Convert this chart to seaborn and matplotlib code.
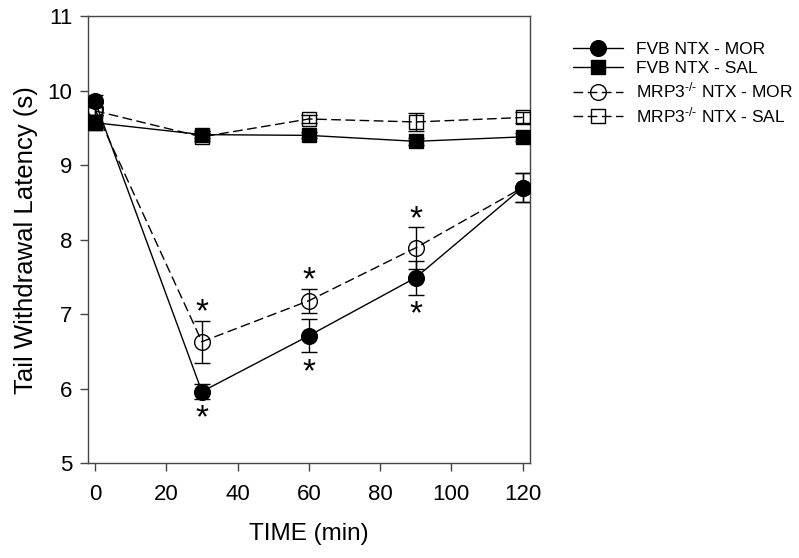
import numpy as np
import matplotlib
matplotlib.use('Agg')
import matplotlib.pyplot as plt
import pandas as pd
import seaborn as sns

# Values
time_min = [0, 30, 60, 90, 120]

fvb_mor = [9.86, 5.96, 6.71, 7.49, 8.70]
fvb_mor_err = [0.08, 0.10, 0.22, 0.23, 0.20]

fvb_sal = [9.57, 9.41, 9.40, 9.32, 9.38]
fvb_sal_err = [0.10, 0.05, 0.04, 0.05, 0.05]

mrp3_mor = [9.75, 6.63, 7.18, 7.89, 8.70]
mrp3_mor_err = [0.08, 0.28, 0.16, 0.28, 0.20]

mrp3_sal = [9.73, 9.38, 9.62, 9.58, 9.64]
mrp3_sal_err = [0.05, 0.05, 0.06, 0.12, 0.07]

labels = ['FVB NTX - MOR', 'FVB NTX - SAL',
          r'MRP3$^{\text{-/-}}$ NTX - MOR', r'MRP3$^{\text{-/-}}$ NTX - SAL']

# significance stars at these times
stars_above_mrp3 = [30, 60, 90]
stars_below_fvb = [30, 60, 90]

frames = []
for lab, vals, errs in zip(labels,
                           [fvb_mor, fvb_sal, mrp3_mor, mrp3_sal],
                           [fvb_mor_err, fvb_sal_err, mrp3_mor_err, mrp3_sal_err]):
    frames.append(pd.DataFrame({'time': time_min, 'latency': vals,
                                'sem': errs, 'group': lab}))
df = pd.concat(frames, ignore_index=True)

styles = {
    labels[0]: dict(marker='o', linestyle='-', mfc='black', ms=11.3),
    labels[1]: dict(marker='s', linestyle='-', mfc='black', ms=9.6),
    labels[2]: dict(marker='o', linestyle='--', mfc='none', ms=11.3),
    labels[3]: dict(marker='s', linestyle='--', mfc='none', ms=9.6),
}

sns.set_style('ticks')
plt.rcParams['font.family'] = ['Liberation Sans', 'DejaVu Sans']
plt.rcParams['mathtext.fontset'] = 'custom'
plt.rcParams['mathtext.rm'] = 'Liberation Sans'
plt.rcParams['mathtext.it'] = 'Liberation Sans'
plt.rcParams['lines.dashed_pattern'] = [7, 3.2]
plt.rcParams['text.color'] = 'black'
plt.rcParams['axes.labelcolor'] = 'black'
plt.rcParams['xtick.labelcolor'] = 'black'
plt.rcParams['ytick.labelcolor'] = 'black'

fig, ax = plt.subplots(figsize=(7.99, 5.58), dpi=100)
fig.subplots_adjust(left=0.110, right=0.663, top=0.971, bottom=0.170)

for lab in labels:
    sub = df[df['group'] == lab]
    st = styles[lab]
    ax.errorbar(sub['time'], sub['latency'], yerr=sub['sem'], fmt='none',
                ecolor='black', elinewidth=1, capsize=5.5, capthick=1, zorder=2)
    sns.lineplot(data=sub, x='time', y='latency', ax=ax, color='black',
                 linewidth=1, linestyle=st['linestyle'], marker=st['marker'],
                 markersize=st['ms'], markerfacecolor=st['mfc'],
                 markeredgecolor='black', markeredgewidth=1, label=lab,
                 zorder=3)

# asterisks
m = df[df['group'] == labels[2]].set_index('time')
for t in stars_above_mrp3:
    ax.annotate('*', xy=(t, m.loc[t, 'latency'] + m.loc[t, 'sem']),
                xytext=(0, 5.5), textcoords='offset points',
                ha='center', va='center', fontsize=24)
f = df[df['group'] == labels[0]].set_index('time')
for t in stars_below_fvb:
    ax.annotate('*', xy=(t, f.loc[t, 'latency'] - f.loc[t, 'sem']),
                xytext=(0, -14.5), textcoords='offset points',
                ha='center', va='center', fontsize=24)

ax.set_xlim(-2, 122)
ax.set_ylim(5, 11)
ax.set_xticks([0, 20, 40, 60, 80, 100, 120])
ax.set_yticks([5, 6, 7, 8, 9, 10, 11])
ax.tick_params(axis='both', labelsize=16, color='#444444', length=6, width=1)
ax.tick_params(axis='x', pad=9)
ax.tick_params(axis='y', pad=5)
for sp in ax.spines.values():
    sp.set_visible(True)
    sp.set_color('#444444')
    sp.set_linewidth(1)

ax.set_xlabel('TIME (min)', fontsize=17.5, labelpad=13)
ax.set_ylabel('Tail Withdrawal Latency (s)', fontsize=18.5, labelpad=7)

ax.legend(loc='upper left', bbox_to_anchor=(0.717, 0.925),
          bbox_transform=fig.transFigure, frameon=False, fontsize=12.5,
          handlelength=2.9, handletextpad=0.75, labelspacing=0.25,
          borderpad=0, borderaxespad=0)

fig.savefig('out.png', dpi=100)
